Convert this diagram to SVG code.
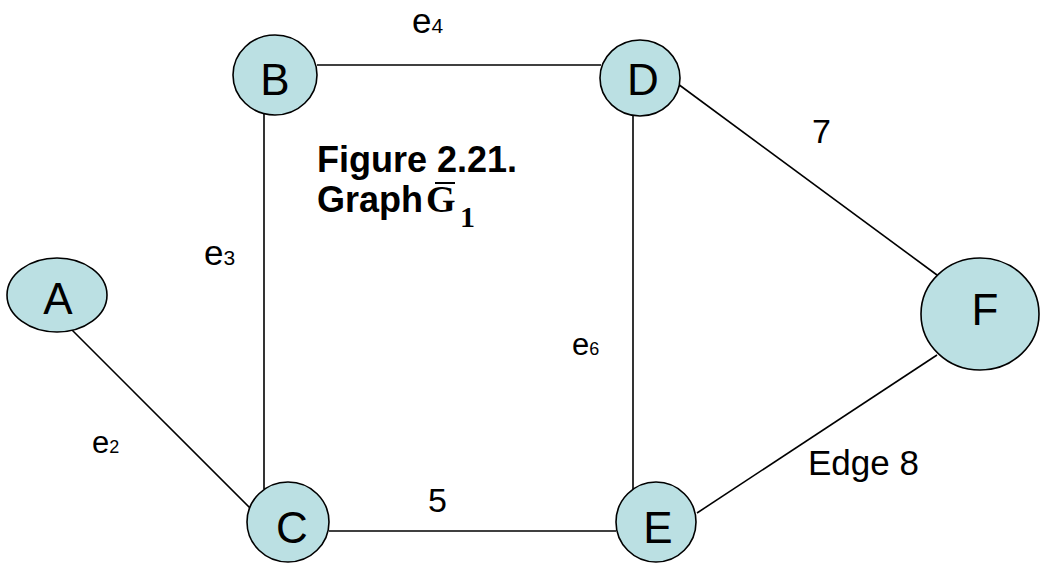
<svg xmlns="http://www.w3.org/2000/svg" width="1040" height="564" viewBox="0 0 1040 564">
<style>
.node{fill:#BBE0E3;stroke:#000;stroke-width:1.6}
.edge{stroke:#000;stroke-width:1.6;fill:none}
.nl{font-family:"Liberation Sans",Arial,sans-serif;font-size:44px;text-anchor:middle;fill:#000}
.el{font-family:"Liberation Sans",Arial,sans-serif;fill:#000}
.fig{font-family:"Liberation Sans",Arial,sans-serif;font-size:36px;font-weight:bold;fill:#000}
.ser{font-family:"Liberation Serif","Times New Roman",serif;font-weight:bold;font-style:normal;fill:#000}
</style>
<rect width="1040" height="564" fill="#fff"/>
<g id="connectors">
<line class="edge" x1="72" y1="330" x2="254" y2="512"/>
<line class="edge" x1="264" y1="113" x2="264" y2="489"/>
<line class="edge" x1="317" y1="65" x2="601" y2="65"/>
<line class="edge" x1="633" y1="115" x2="633" y2="498"/>
<line class="edge" x1="329" y1="531" x2="616" y2="531"/>
<line class="edge" x1="678" y1="84" x2="937" y2="275"/>
<line class="edge" x1="697" y1="513" x2="937" y2="355"/>
</g>
<g id="edge-labels">
<text class="el" x="412" y="33" font-size="35">e<tspan font-size="21">4</tspan></text>
<text class="el" x="204" y="265" font-size="35">e<tspan font-size="21">3</tspan></text>
<text class="el" x="572" y="355" font-size="31">e<tspan font-size="18">6</tspan></text>
<text class="el" x="92" y="453" font-size="31">e<tspan font-size="18">2</tspan></text>
<text class="el" x="812" y="143" font-size="34">7</text>
<text class="el" x="428" y="512" font-size="34">5</text>
<text class="el" x="808" y="475" font-size="35">Edge 8</text>
</g>
<g id="node-A"><ellipse class="node" cx="57" cy="295" rx="50" ry="37"/><text class="nl" x="58" y="314">A</text></g>
<g id="node-B"><ellipse class="node" cx="275" cy="75" rx="42" ry="40"/><text class="nl" x="275" y="95">B</text></g>
<g id="node-D"><ellipse class="node" cx="640" cy="78" rx="40" ry="38"/><text class="nl" x="643" y="95">D</text></g>
<g id="node-C"><ellipse class="node" cx="288" cy="522" rx="41" ry="40"/><text class="nl" x="292" y="543">C</text></g>
<g id="node-E"><ellipse class="node" cx="656" cy="522" rx="40" ry="40"/><text class="nl" x="658" y="543">E</text></g>
<g id="node-F"><ellipse class="node" cx="980" cy="314" rx="59" ry="56"/><text class="nl" x="985" y="325">F</text></g>
<g id="caption">
<text class="fig" x="317" y="172">Figure 2.21.</text>
<text class="fig" x="317" y="212">Graph</text>
<text class="ser" x="426" y="212" font-size="38">G</text>
<line x1="435" y1="183" x2="455" y2="183" stroke="#000" stroke-width="2"/>
<text class="ser" x="460" y="227" font-size="30">1</text>
</g>
</svg>
